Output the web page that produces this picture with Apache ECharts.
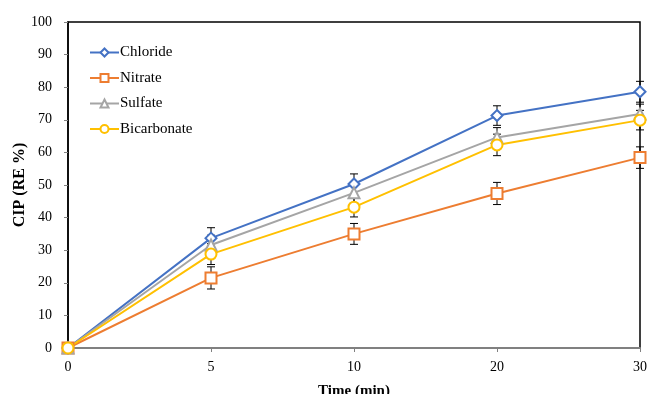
<!DOCTYPE html>
<html><head><meta charset="utf-8">
<script src="https://cdn.jsdelivr.net/npm/echarts@6/dist/echarts.min.js"></script>
<style>html,body{margin:0;padding:0;background:#fff}#c{width:648px;height:394px}</style>
</head><body><div id="c"></div>
<script>
const categories = ['0','5','10','20','30'];
const chloride = [0, 33.7, 50.3, 71.3, 78.6];
const nitrate = [0, 21.5, 35.0, 47.4, 58.4];
const sulfate = [0, 31.6, 47.6, 64.6, 71.8];
const bicarbonate = [0, 28.8, 43.2, 62.3, 69.9];
const chlorideErr = [0.5, 3.2, 3.1, 3.0, 3.2];
const nitrateErr = [0.5, 3.4, 3.2, 3.4, 3.3];
const sulfateErr = [0.5, 3.0, 3.0, 3.0, 3.0];
const bicarbonateErr = [0.5, 3.2, 3.0, 3.3, 3.0];
const names = ['Chloride','Nitrate','Sulfate','Bicarbonate'];
const colors = ['#4472C4','#ED7D31','#A5A5A5','#FFC000'];
const symbols = ['emptyDiamond','emptyRect','emptyTriangle','emptyCircle'];
const values = [chloride, nitrate, sulfate, bicarbonate];
const errs = [chlorideErr, nitrateErr, sulfateErr, bicarbonateErr];
const font = '"Liberation Serif", "Times New Roman", serif';

const chart = echarts.init(document.getElementById('c'));
const series = [];
values.forEach((v, i) => {
  series.push({
    type: 'custom', name: names[i] + ' err', silent: true, z: 1,
    data: v.map((y, k) => [k, y - errs[i][k], y + errs[i][k]]),
    renderItem: (params, api) => {
      const lo = api.coord([api.value(0), api.value(1)]);
      const hi = api.coord([api.value(0), api.value(2)]);
      const w = 4;
      const s = {stroke: '#000', lineWidth: 1};
      return {type: 'group', children: [
        {type: 'line', shape: {x1: lo[0], y1: lo[1], x2: hi[0], y2: hi[1]}, style: s},
        {type: 'line', shape: {x1: lo[0]-w, y1: lo[1], x2: lo[0]+w, y2: lo[1]}, style: s},
        {type: 'line', shape: {x1: hi[0]-w, y1: hi[1], x2: hi[0]+w, y2: hi[1]}, style: s}
      ]};
    }
  });
});
values.forEach((v, i) => {
  series.push({
    type: 'line', name: names[i], data: v, z: 3,
    symbol: symbols[i], symbolSize: 11, showAllSymbol: true,
    lineStyle: {color: colors[i], width: 2},
    itemStyle: {color: colors[i], borderColor: colors[i], borderWidth: 2}
  });
});

chart.setOption({
  animation: false,
  grid: {left: 68, right: 8, top: 22, bottom: 46, containLabel: false, outerBoundsMode: 'none',
         show: true, borderColor: '#000', borderWidth: 1.5, backgroundColor: 'transparent'},
  legend: {
    data: names, orient: 'vertical', left: 84, top: 40, itemGap: 10.5,
    itemWidth: 29, itemHeight: 10,
    textStyle: {fontFamily: font, fontSize: 15, color: '#000', padding: [0,0,0,-4]}
  },
  xAxis: {
    type: 'category', data: categories, boundaryGap: false,
    name: 'Time (min)', nameLocation: 'middle', nameGap: 36, nameMoveOverlap: false,
    nameTextStyle: {fontFamily: font, fontSize: 15, fontWeight: 'bold', color: '#000', verticalAlign: 'top'},
    axisLine: {lineStyle: {color: '#808080', width: 2}},
    axisTick: {show: true, length: 4, alignWithLabel: true, lineStyle: {color: '#808080'}},
    axisLabel: {fontFamily: font, fontSize: 14, color: '#000', margin: 12}
  },
  yAxis: {
    type: 'value', min: 0, max: 100, interval: 10,
    name: 'CIP (RE %)', nameLocation: 'middle', nameGap: 40, nameMoveOverlap: false,
    nameTextStyle: {fontFamily: font, fontSize: 16, fontWeight: 'bold', color: '#000'},
    axisLine: {show: true, lineStyle: {color: '#000', width: 1.5}},
    axisTick: {show: true, length: 4, lineStyle: {color: '#808080'}},
    splitLine: {show: false},
    axisLabel: {fontFamily: font, fontSize: 14, color: '#000', margin: 16}
  },
  series: series
});
</script></body></html>
